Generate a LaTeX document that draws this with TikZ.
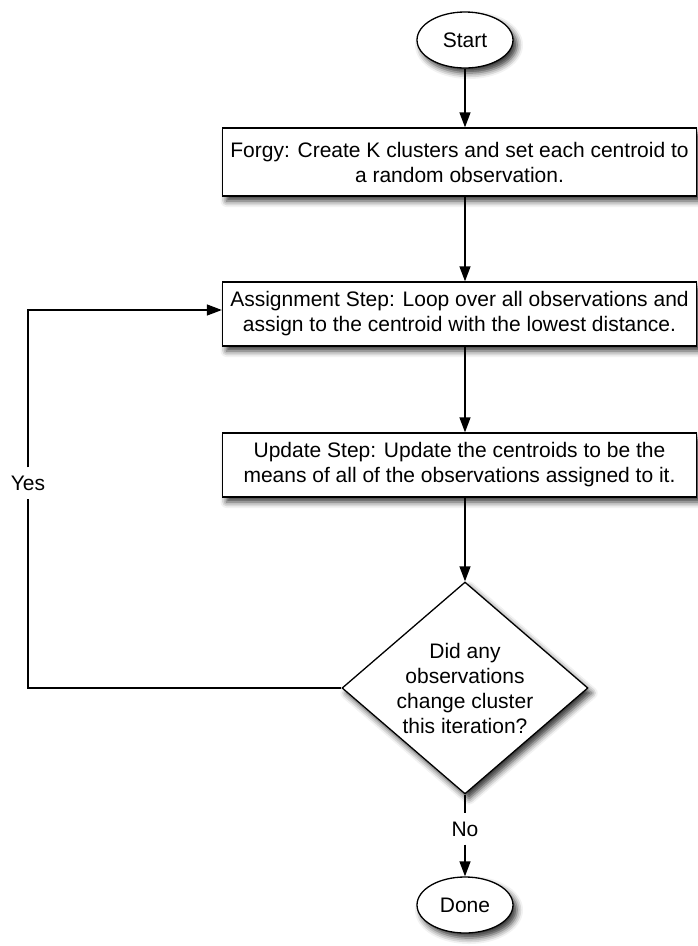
\documentclass[tikz,border=0pt]{standalone}
\usepackage{fontspec}
\setmainfont{Liberation Sans}
\usetikzlibrary{shapes.geometric,arrows.meta,shadows.blur}
\tikzset{
  flowline/.style={line width=1.3pt, draw=black},
  flowarrow/.style={flowline, -{Triangle[length=15pt,width=11pt]}},
  softshadow/.style={blur shadow={shadow xshift=4pt, shadow yshift=-5pt, shadow blur radius=6pt, shadow opacity=80}},
  terminal/.style={ellipse, draw, line width=1.3pt, fill=white, softshadow,
    minimum width=96pt, minimum height=56pt, inner sep=0pt},
  process/.style={rectangle, draw, line width=1.3pt, fill=white, softshadow,
    minimum width=474pt, align=center, inner sep=0pt},
  decision/.style={diamond, draw, line width=1.3pt, fill=white, softshadow,
    minimum width=246pt, minimum height=212pt, inner sep=0pt},
  tag/.style={inner xsep=5pt, inner ysep=8pt, fill=white},
}
\begin{document}
\begin{tikzpicture}[x=1pt, y=-1pt, font=\fontsize{21}{25}\selectfont]
\useasboundingbox (0,0) rectangle (698,946);

\node[terminal] (start) at (465,40) {Start};
\node[process, minimum height=68pt] (forgy) at (459.5,162)
  {Forgy: Create K clusters and set each centroid to\\a random observation.};
\node[process, minimum height=64pt] (assign) at (459.5,314)
  {Assignment Step: Loop over all observations and\\assign to the centroid with the lowest distance.};
\node[process, minimum height=64pt] (update) at (459.5,465)
  {Update Step: Update the centroids to be the\\means of all of the observations assigned to it.};
\node[decision] (check) at (465,688) {};
\node[align=center] (checktext) at (check.center)
  {Did any\\observations\\change cluster\\this iteration?};
\node[tag] (no) at (465,829) {No};
\node[terminal] (done) at (465,905) {Done};
\node[tag] (yes) at (28,483) {Yes};

\draw[flowarrow] (start.south) -- (start.south |- forgy.north);
\draw[flowarrow] (start.south |- forgy.south) -- (start.south |- assign.north);
\draw[flowarrow] (start.south |- assign.south) -- (start.south |- update.north);
\draw[flowarrow] (start.south |- update.south) -- (check.north);
\draw[flowline] (check.south) -- (no.north);
\draw[flowarrow] (no.south) -- (done.north);

\coordinate (loopin) at (assign.west |- 0,310);
\draw[flowline] (check.west) -- (yes.center |- check.west) -- (yes.south);
\draw[flowarrow] (yes.north) -- (yes.center |- loopin) -- (loopin);
\end{tikzpicture}
\end{document}
